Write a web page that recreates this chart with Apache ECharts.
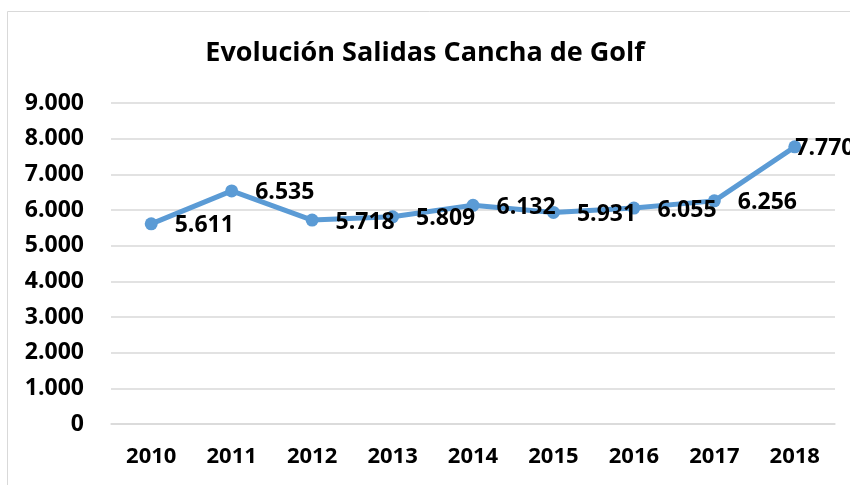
<!DOCTYPE html>
<html lang="es">
<head>
<meta charset="UTF-8">
<title>Evolución Salidas Cancha de Golf</title>
<script src="https://cdn.jsdelivr.net/npm/echarts@6/dist/echarts.min.js"></script>
<style>
  html, body { margin: 0; padding: 0; background: #fff; }
  #chart { width: 850px; height: 485px; }
</style>
</head>
<body>
<div id="chart"></div>
<script>
// datos
var years = ['2010', '2011', '2012', '2013', '2014', '2015', '2016', '2017', '2018'];
var salidas = [5611, 6535, 5718, 5809, 6132, 5931, 6055, 6256, 7770];

var FONT = "'Open Sans', 'Noto Sans', sans-serif";

// separador de miles con punto
function miles(v) {
    return String(v).replace(/\B(?=(\d{3})+(?!\d))/g, '.');
}

var chart = echarts.init(document.getElementById('chart'));

var option = {
    backgroundColor: '#fff',
    animation: false,
    title: {
        text: 'Evolución Salidas Cancha de Golf',
        left: 'center',
        top: 35,
        textStyle: { fontFamily: FONT, fontSize: 27, fontWeight: 'bold', color: '#000' }
    },
    // marco del gráfico
    graphic: [{
        type: 'rect',
        shape: { x: 7.5, y: 11.5, width: 900, height: 600 },
        style: { fill: 'none', stroke: '#d9d9d9', lineWidth: 1 },
        silent: true
    }],
    grid: { left: 111, right: 15, top: 103, bottom: 61 },
    xAxis: {
        type: 'category',
        data: years,
        boundaryGap: true,
        axisLine: { lineStyle: { color: '#d9d9d9', width: 1.5 } },
        axisTick: { show: false },
        axisLabel: { margin: 22, fontFamily: FONT, fontSize: 22, fontWeight: 'bold', color: '#000' }
    },
    yAxis: {
        type: 'value',
        min: 0,
        max: 9000,
        interval: 1000,
        axisLine: { show: false },
        axisTick: { show: false },
        splitLine: { lineStyle: { color: '#d9d9d9', width: 1.5 } },
        axisLabel: {
            margin: 27, fontFamily: FONT, fontSize: 23, fontWeight: 'bold', color: '#000',
            formatter: miles
        }
    },
    series: [{
        type: 'line',
        data: salidas.map(function (v, i) {
            var d = { value: v };
            if (i === salidas.length - 1) {
                d.label = { distance: -6 };
            }
            return d;
        }),
        symbol: 'circle',
        symbolSize: 13,
        lineStyle: { color: '#5b9bd5', width: 5 },
        itemStyle: { color: '#5b9bd5' },
        label: {
            show: true,
            position: 'right',
            distance: 17,
            offset: [0, 2],
            fontFamily: FONT,
            fontSize: 23,
            fontWeight: 'bold',
            color: '#000',
            formatter: function (p) { return miles(p.value); }
        }
    }]
};

chart.setOption(option);
</script>
</body>
</html>
